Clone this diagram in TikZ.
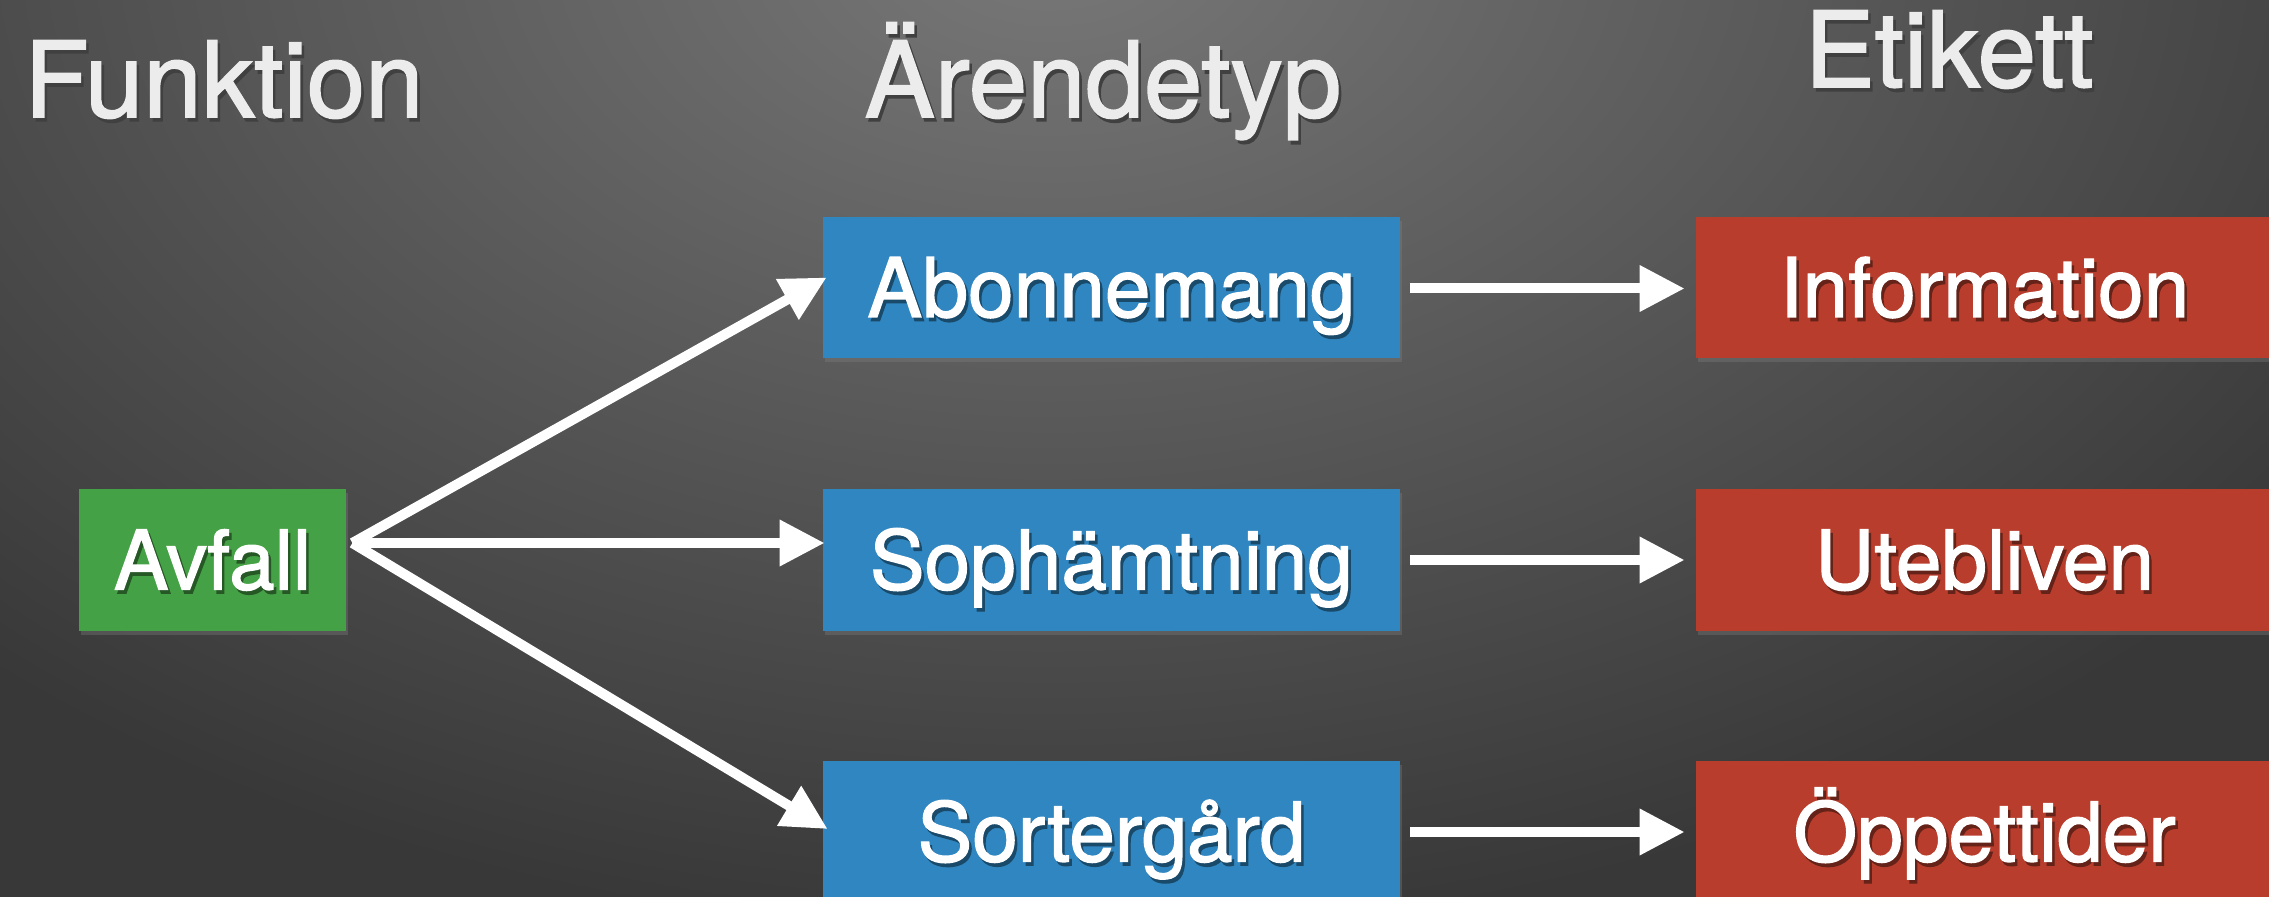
\documentclass[tikz,border=0pt]{standalone}
\usepackage{fontspec}
\setmainfont{TeX Gyre Heros}[BoldFont=TeX Gyre Heros, BoldFeatures={FakeBold=1.6}]
\usetikzlibrary{arrows.meta,shadows}
\definecolor{bgin}{RGB}{120,120,120}
\definecolor{bgout}{RGB}{56,56,56}
\definecolor{boxgreen}{RGB}{69,161,69}
\definecolor{boxblue}{RGB}{47,134,192}
\definecolor{boxred}{RGB}{184,61,44}
\definecolor{titlegray}{RGB}{236,236,236}
\newcommand\shtext[2]{\makebox[0pt][l]{\kern1.3pt\raisebox{-1.9pt}{\textcolor{#1}{#2}}}#2}
\tikzset{
  x=0.5pt, y=-0.5pt,
  box/.style={inner sep=0pt, minimum height=70.75pt, text=white,
    text height=29.4pt, text depth=0pt,
    font=\fontsize{41pt}{41pt}\selectfont\bfseries,
    drop shadow={opacity=0.35, shadow xshift=1.2pt, shadow yshift=-2pt}},
  funcbox/.style={box, fill=boxgreen, minimum width=133.5pt},
  typebox/.style={box, fill=boxblue, minimum width=288.5pt},
  tagbox/.style={box, fill=boxred, minimum width=288.5pt},
  title/.style={inner sep=0pt, anchor=base, text=titlegray,
    font=\fontsize{52.5pt}{52.5pt}\selectfont\bfseries},
  arr/.style={draw=white, line width=5pt,
    -{Triangle[length=22.5pt,width=22pt]}}
}
\begin{document}
\begin{tikzpicture}
\useasboundingbox (0,0) rectangle (2269,897);
\clip (0,0) rectangle (2269,897);
\fill[bgout] (0,0) rectangle (2269,897);
\shade[inner color=bgin, outer color=bgout] (1050,-60) ellipse [x radius=1550, y radius=1000];

\node[title] (t1) at (224,117) {\shtext{black!75}{Funktion}};
\node[title] (t2) at (1103,117) {\shtext{black!75}{Ärendetyp}};
\node[title] (t3) at (1949,87) {\shtext{black!75}{Etikett}};

\node[funcbox] (avfall) at (212.5,560) {\shtext{boxgreen!55!black}{Avfall}};

\node[typebox] (abon) at (1111.5,287.5) {\shtext{boxblue!55!black}{Abonnemang}};
\node[typebox] (soph) at (1111.5,560) {\shtext{boxblue!55!black}{Sophämtning}};
\node[typebox] (sort) at (1111.5,832) {\shtext{boxblue!55!black}{Sortergård}};

\node[tagbox] (info) at (1984.5,287.5) {\shtext{boxred!55!black}{Information}};
\node[tagbox] (uteb) at (1984.5,560) {\shtext{boxred!55!black}{Utebliven}};
\node[tagbox] (oppe) at (1984.5,832) {\shtext{boxred!55!black}{Öppettider}};

\draw[arr] ([shift={(6,-17)}]avfall.east) -- ([shift={(4,-10)}]abon.west);
\draw[arr] ([shift={(6,-17)}]avfall.east) -- ([shift={(2,-17)}]soph.west);
\draw[arr] ([shift={(6,-17)}]avfall.east) -- ([shift={(5,-3)}]sort.west);

\draw[arr] ([xshift=5pt,yshift=-0.5pt]abon.east) -- ([xshift=-5.5pt,yshift=-0.5pt]info.west);
\draw[arr] ([xshift=5pt]soph.east) -- ([xshift=-5.5pt]uteb.west);
\draw[arr] ([xshift=5pt]sort.east) -- ([xshift=-5.5pt]oppe.west);
\end{tikzpicture}
\end{document}
